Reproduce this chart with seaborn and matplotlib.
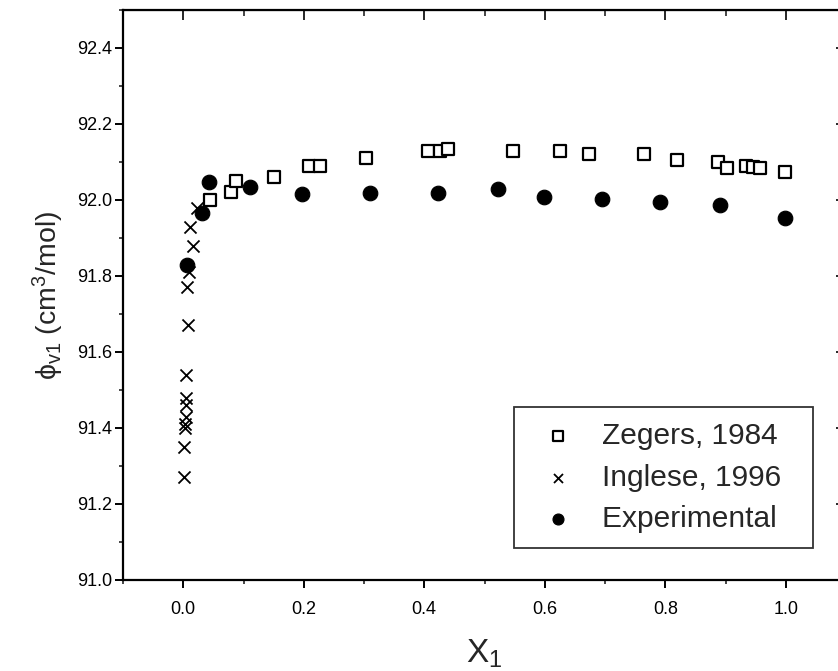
import numpy as np
import pandas as pd
import matplotlib
matplotlib.use("Agg")
import matplotlib.pyplot as plt
import seaborn as sns
from matplotlib.ticker import MultipleLocator, FormatStrFormatter

# data
zegers_x = [0.044, 0.080, 0.087, 0.151, 0.209, 0.227, 0.303, 0.406, 0.426, 0.440,
            0.548, 0.625, 0.673, 0.765, 0.819, 0.888, 0.903, 0.934, 0.945, 0.958, 0.999]
zegers_y = [92.00, 92.02, 92.05, 92.06, 92.09, 92.09, 92.11, 92.13, 92.13, 92.133,
            92.13, 92.13, 92.12, 92.12, 92.105, 92.10, 92.085, 92.09, 92.088, 92.085, 92.073]

inglese_x = [0.001, 0.002, 0.003, 0.003, 0.004, 0.004, 0.004, 0.005, 0.008, 0.006,
             0.009, 0.017, 0.012, 0.022]
inglese_y = [91.27, 91.35, 91.40, 91.41, 91.43, 91.46, 91.48, 91.54, 91.67, 91.77,
             91.81, 91.88, 91.93, 91.98]

exp_x = [0.006, 0.031, 0.042, 0.110, 0.197, 0.310, 0.422, 0.523, 0.598, 0.695, 0.791, 0.891, 0.999]
exp_y = [91.83, 91.965, 92.048, 92.035, 92.015, 92.018, 92.018, 92.029, 92.009, 92.003,
         91.996, 91.987, 91.952]

sns.set_style("ticks")
plt.rcParams['font.family'] = ['Liberation Sans', 'DejaVu Sans']
plt.rcParams['mathtext.fontset'] = 'custom'
plt.rcParams['mathtext.rm'] = 'Liberation Sans'
plt.rcParams['mathtext.it'] = 'Liberation Sans'

fig = plt.figure(figsize=(8.38, 6.71), dpi=100)
W, H = 838, 671
ax = fig.add_axes([123 / W, 1 - 580 / H, (846 - 123) / W, (580 - 10) / H])

df_z = pd.DataFrame({"x": zegers_x, "y": zegers_y})
df_i = pd.DataFrame({"x": inglese_x, "y": inglese_y})
df_e = pd.DataFrame({"x": exp_x, "y": exp_y})

sns.scatterplot(data=df_z, x="x", y="y", ax=ax, marker="s", s=85,
                facecolor="white", edgecolor="black", linewidth=1.6,
                label="Zegers, 1984  ", zorder=3)
sns.scatterplot(data=df_i, x="x", y="y", ax=ax, marker="x", s=75,
                color="black", linewidth=1.3, label="Inglese, 1996  ", zorder=3)
sns.scatterplot(data=df_e, x="x", y="y", ax=ax, marker="o", s=110,
                color="black", edgecolor="black", label="Experimental  ", zorder=4)

ax.set_xlim(-0.1, 1.1)
ax.set_ylim(91.0, 92.5)
ax.xaxis.set_minor_locator(MultipleLocator(0.1))
ax.yaxis.set_minor_locator(MultipleLocator(0.1))
ax.set_xticks([0.0, 0.2, 0.4, 0.6, 0.8, 1.0])
ax.set_yticks([91.0, 91.2, 91.4, 91.6, 91.8, 92.0, 92.2, 92.4])
ax.xaxis.set_major_formatter(FormatStrFormatter('%.1f'))
ax.yaxis.set_major_formatter(FormatStrFormatter('%.1f'))

for sp in ax.spines.values():
    sp.set_visible(True)
    sp.set_linewidth(1.6)
    sp.set_color("black")

ax.tick_params(which="major", direction="out", length=6, width=1.4, labelsize=13,
               colors="black")
ax.tick_params(axis="x", which="major", pad=9)
ax.tick_params(axis="y", which="major", pad=2)
ax.tick_params(which="minor", direction="out", length=3, width=1.2)

# inward ticks on top and right
secx = ax.secondary_xaxis("top")
secx.xaxis.set_major_locator(MultipleLocator(0.2))
secx.xaxis.set_minor_locator(MultipleLocator(0.1))
secx.tick_params(which="major", direction="in", length=7, width=1.4, labeltop=False)
secx.tick_params(which="minor", direction="in", length=4, width=1.2)
secy = ax.secondary_yaxis("right")
secy.yaxis.set_major_locator(MultipleLocator(0.2))
secy.yaxis.set_minor_locator(MultipleLocator(0.1))
secy.tick_params(which="major", direction="in", length=7, width=1.4, labelright=False)
secy.tick_params(which="minor", direction="in", length=4, width=1.2)

ax.set_xlabel("X$_1$", fontsize=24, labelpad=14)
ax.set_ylabel("\u03d5$_{\\mathrm{v1}}$ (cm$^{3}$/mol)", fontsize=20.5, labelpad=8)

leg = ax.legend(loc="lower right", bbox_to_anchor=((813 - 123) / (846 - 123), (580 - 548) / 570),
                fontsize=21.5, frameon=True, fancybox=False, edgecolor="black",
                markerscale=0.75, handletextpad=0.53, handlelength=1.94,
                labelspacing=0.45, borderpad=0.5, borderaxespad=0)
leg.get_frame().set_linewidth(1.3)

fig.savefig("out.png", dpi=100)
